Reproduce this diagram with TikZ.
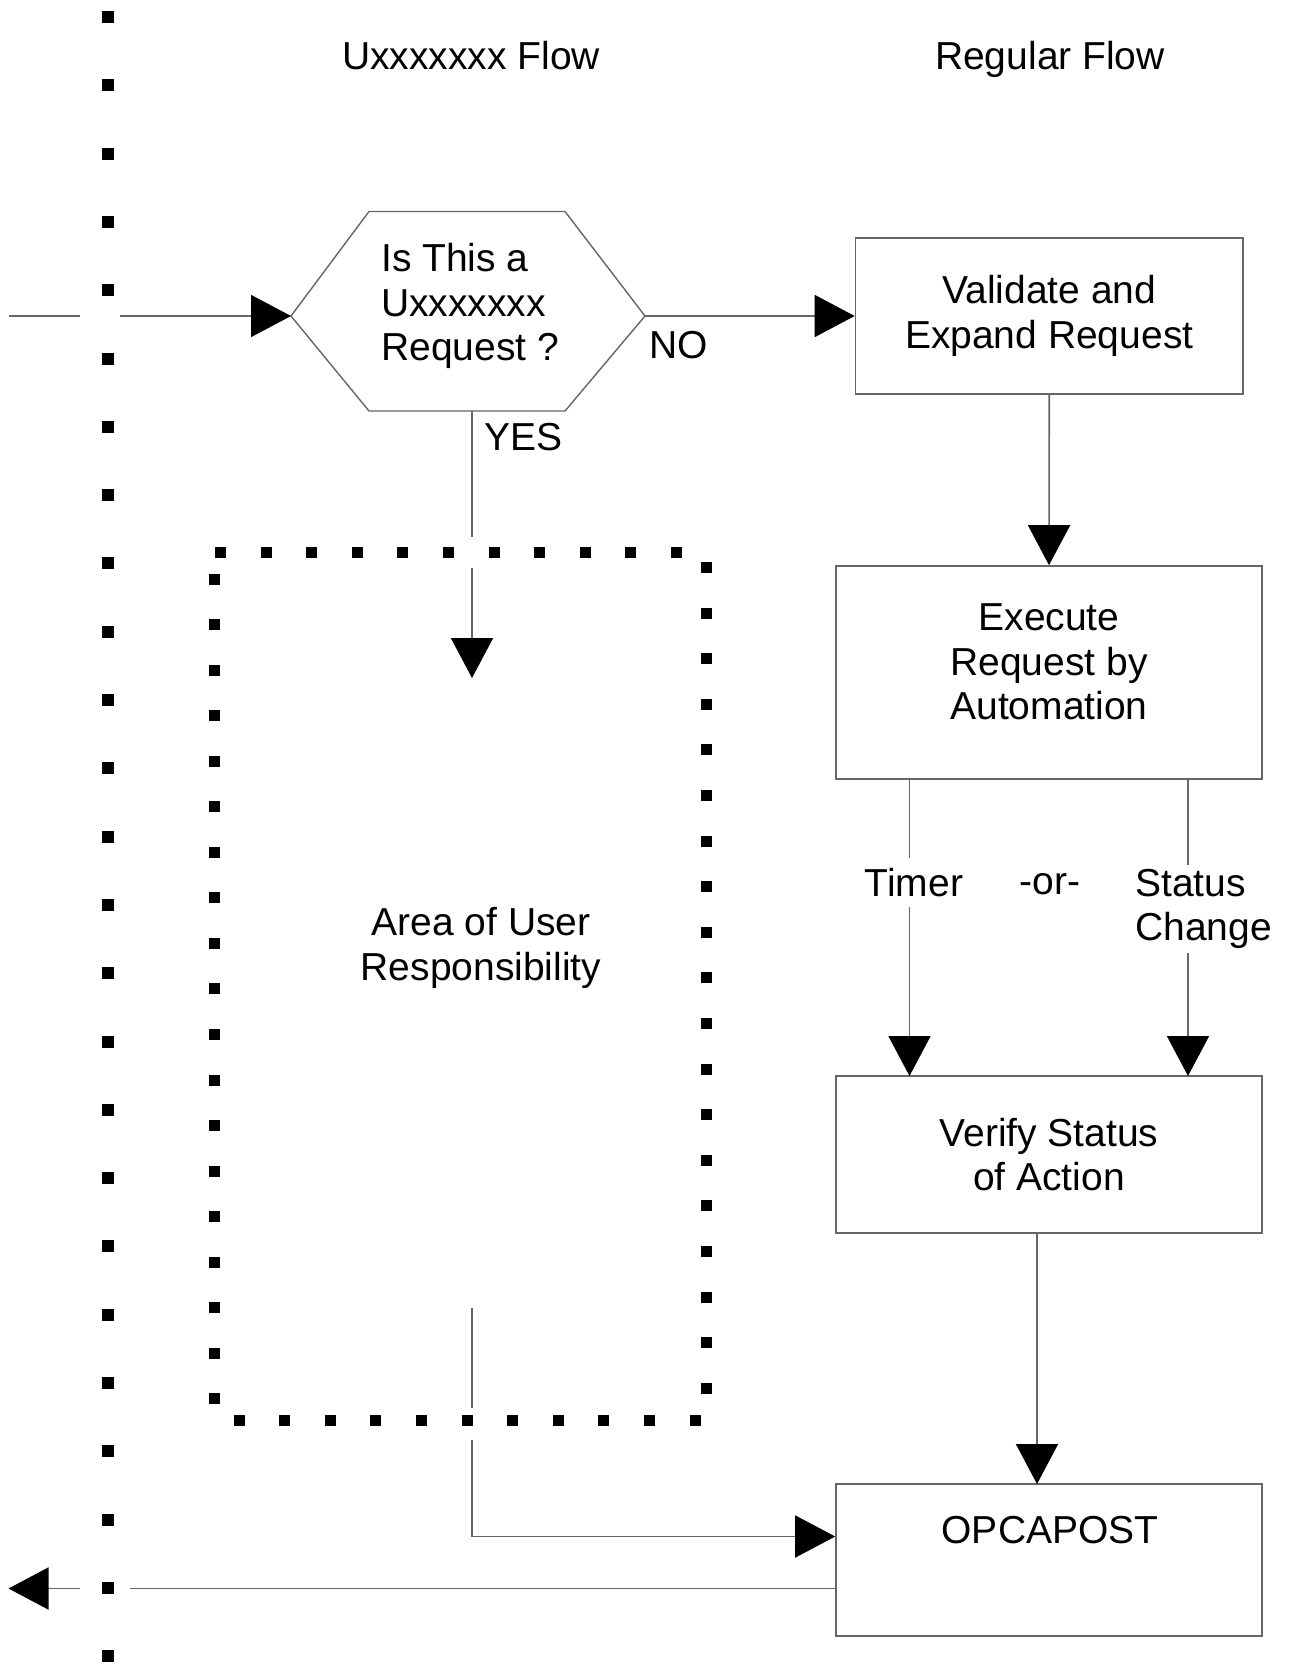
\documentclass[tikz,border=0pt]{standalone}
\usepackage{fontspec}
\setmainfont{Liberation Sans}
\usetikzlibrary{arrows.meta}
\tikzset{
  x=1pt, y=-1pt,
  txt/.style={font=\fontsize{39}{44.6}\selectfont, inner sep=0pt, align=center},
  boxnode/.style={draw=black!60, line width=1.6pt, inner sep=0pt, align=center,
    font=\fontsize{39}{44.6}\selectfont},
  conn/.style={draw=black!60, line width=1.6pt},
  arr/.style={conn, -{Triangle[length=40pt,width=42pt,color=black]}},
  dotline/.style={draw=black, line width=12pt, dash pattern=on 12pt off 56.3pt},
  sqdot/.style={fill=black},
  hexline/.style={draw=black!60, line width=1.4pt}
}
\begin{document}
\begin{tikzpicture}
\useasboundingbox (0,0) rectangle (1290,1666);
\fill[white] (0,0) rectangle (1290,1666);

% left dotted boundary
\coordinate (dtop) at (108,11);
\coordinate (dbot) at (108,1666);
\draw[dotline] (dtop) -- (dbot);

% titles
\node[txt, anchor=base] (t1) at (471,69) {Uxxxxxxx Flow};
\node[txt, anchor=base] (t2) at (1050,69) {Regular Flow};

% hexagon decision
\coordinate (hexL) at (291,316);
\coordinate (hexR) at (645,316);
\coordinate (hexB) at (472,411);
\draw[hexline] (369,211.5) -- (565,211.5) -- (hexR) -- (565,411) -- (369,411) -- (hexL) -- cycle;
\node[txt, align=left, anchor=west] (hex) at (381,306) {Is This a\\Uxxxxxxx\\Request ?};

% boxes
\node[boxnode, minimum width=387.5pt, minimum height=156pt] (val) at (1049.25,316) {Validate and\\Expand Request};
\node[boxnode, minimum width=426pt, minimum height=213pt] (exe) at (1049,672.5) {};
\node[txt] (exetext) at (1049,662) {Execute\\Request by\\Automation};
\node[boxnode, minimum width=426pt, minimum height=157pt] (ver) at (1049,1154.5) {Verify Status\\of Action};
\node[boxnode, minimum width=426pt, minimum height=152pt] (opc) at (1049,1560) {};
\node[txt] (opctext) at (1050,1530) {OPCAPOST};

% user area (dotted boundary)
\node[minimum width=492pt, minimum height=868pt, inner sep=0pt] (area) at (460.5,986.5) {};
\foreach \i in {0,...,10} {
  \fill[sqdot] ({220.4+45.6*\i-5.5},547) rectangle ++(11,11);
  \fill[sqdot] ({239+45.6*\i-5.5},1415) rectangle ++(11,11);
}
\foreach \i in {0,...,18} {
  \fill[sqdot] (209,{579+45.55*\i-5.5}) rectangle ++(11,11);
  \fill[sqdot] (701,{567.5+45.6*\i-5.5}) rectangle ++(11,11);
}
\node[txt] (areatext) at (481,948) {Area of User\\Responsibility};

% incoming arrow
\coordinate (inA) at (8.5,316);
\coordinate (inB) at (80,316);
\coordinate (inC) at (120,316);
\draw[conn] (inA) -- (inB);
\draw[arr] (inC) -- (hexL);

% NO
\draw[arr] (hexR) -- (val.west);
\node[txt] (no) at (678.5,345) {NO};

% validate -> execute
\draw[arr] (val.south) -- (exe.north);

% timer / status
\coordinate (tmA) at (909.5,779);
\coordinate (tmB) at (909.5,1076);
\coordinate (stA) at (1188,779);
\coordinate (stB) at (1188,1076);
\draw[arr] (tmA) -- (tmB);
\draw[arr] (stA) -- (stB);
\node[txt, fill=white, minimum height=49pt, minimum width=100pt] (timer) at (914,882.5) {Timer};
\node[txt] (or) at (1050,884) {-or-};
\node[txt, fill=white, align=left, anchor=west, inner ysep=4pt] (status) at (1135,909) {Status\\Change};

% verify -> opcapost
\coordinate (vA) at (1037,1233);
\coordinate (vB) at (1037,1484);
\draw[arr] (vA) -- (vB);

% YES
\coordinate (yA) at (472,537);
\coordinate (yB) at (472,568);
\coordinate (yC) at (472,678);
\draw[conn] (hexB) -- (yA);
\draw[arr] (yB) -- (yC);
\node[txt, anchor=west] (yes) at (484,437) {YES};

% user area -> opcapost
\coordinate (bA) at (472,1308);
\coordinate (bB) at (472,1408);
\coordinate (bC) at (472,1440);
\coordinate (bD) at (472,1536.5);
\draw[conn] (bA) -- (bB);
\draw[arr] (bC) -- (bD) -- (bD -| opc.west);

% outgoing arrow
\coordinate (oA) at (836,1588.5);
\coordinate (oB) at (130,1588.5);
\coordinate (oC) at (80,1588.5);
\coordinate (oD) at (8.5,1588.5);
\draw[conn] (oA) -- (oB);
\draw[arr] (oC) -- (oD);
\end{tikzpicture}
\end{document}
